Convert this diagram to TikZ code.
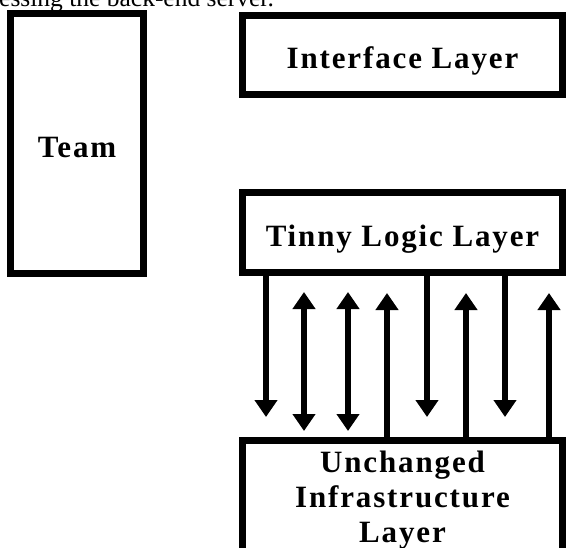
\documentclass[tikz,border=0pt]{standalone}
\usepackage{fontspec}
\setmainfont{Liberation Serif}
\newfontfamily\layerfont{Liberation Serif}[LetterSpace=6]
\usetikzlibrary{arrows.meta}

\tikzset{
  layer/.style={draw=black, line width=7pt, align=center, inner sep=0pt,
    font=\layerfont\bfseries\fontsize{31}{35}\selectfont},
  oneline/.style={text height=27.5pt, text depth=0pt},
  flow/.style={black, line width=6.5pt},
  >={Triangle[width=22pt,length=17pt]}
}

\begin{document}
\begin{tikzpicture}[x=1pt,y=-1pt]
\path[use as bounding box, clip] (0,0) rectangle (567,548);
\node[anchor=base west, inner sep=0pt, font=\fontsize{25.5}{30}\selectfont] (caption) at (-1,6.5) {essing the back-end server.};
\node[layer, oneline, minimum width=133pt, minimum height=260pt] (team) at (77,143.5) {Team};
\node[layer, oneline, minimum width=320pt, minimum height=79pt] (iface) at (402.5,55) {Interface Layer};
\node[layer, oneline, minimum width=320pt, minimum height=80pt] (logic) at (402.5,232.5) {Tinny Logic Layer};
\node[layer, minimum width=320pt, minimum height=119pt] (infra) at (402.5,500) {Unchanged\\Infrastructure\\Layer};

\foreach \x in {266,427,505}
  \draw[flow, ->, shorten >=20pt] (\x,0 |- logic.south) -- (\x,0 |- infra.north);
\foreach \x in {387,466,549}
  \draw[flow, <-, shorten <=17pt] (\x,0 |- logic.south) -- (\x,0 |- infra.north);
\foreach \x in {304,348}
  \draw[flow, <->, shorten <=16pt, shorten >=6pt] (\x,0 |- logic.south) -- (\x,0 |- infra.north);
\end{tikzpicture}
\end{document}
